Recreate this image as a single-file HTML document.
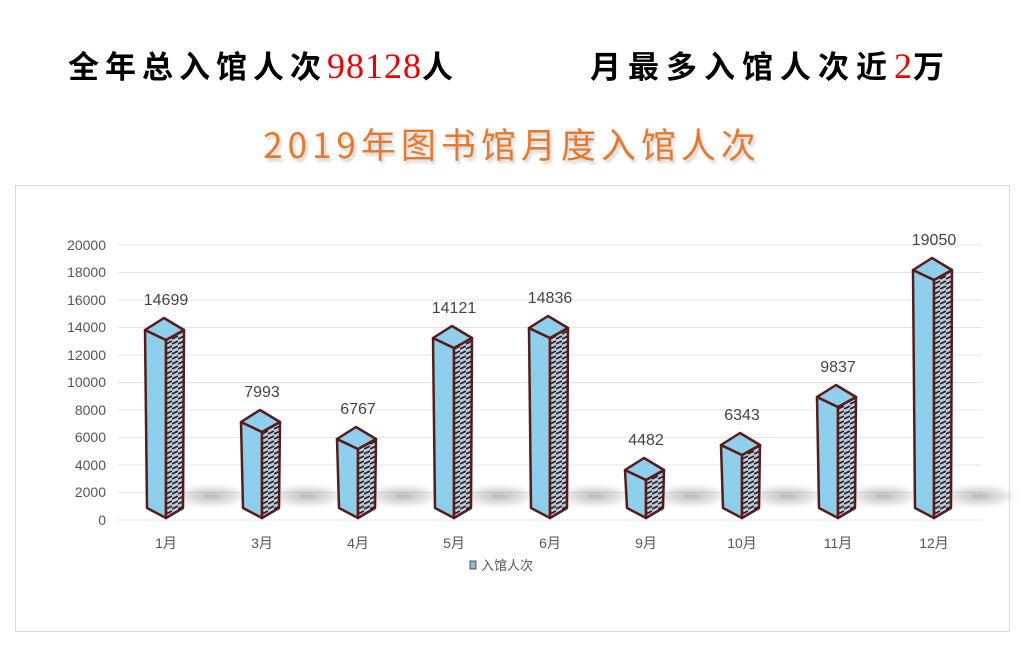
<!DOCTYPE html>
<html><head><meta charset="utf-8"><style>
body{margin:0;background:#fff;width:1024px;height:650px;overflow:hidden;font-family:"Liberation Sans","Noto Sans CJK SC",sans-serif}
.h{position:absolute;top:42px;font-size:31px;font-weight:bold;color:#000;font-family:"Noto Sans CJK SC",sans-serif;letter-spacing:6px;white-space:nowrap}
.r{color:#e00;font-family:"Liberation Serif","Noto Serif CJK SC",serif;font-weight:normal;font-size:36px;letter-spacing:1px}
.t{position:absolute;left:0;width:1024px;top:118px;text-align:center;font-size:35px;color:#e8782a;font-family:"Noto Sans CJK SC",sans-serif;letter-spacing:5px;text-shadow:2px 3px 3px #ccc}
.box{position:absolute;left:15px;top:185px;width:993px;height:445px;border:1px solid #d9d9d9}
</style></head><body>
<div class="h" style="left:68px">全年总入馆人次<span class="r">98128</span>人</div>
<div class="h" style="left:590px;letter-spacing:7px">月最多入馆人次近<span class="r">2</span>万</div>
<div class="t">2019年图书馆月度入馆人次</div>
<div class="box"></div>
<svg width="1024" height="650" style="position:absolute;left:0;top:0" font-family="Liberation Sans, Noto Sans CJK SC, sans-serif">
<defs><pattern id="hp" width="6" height="5" patternUnits="userSpaceOnUse"><rect width="6" height="5" fill="#a8d4ea"/><path d="M0 4 L6 1" stroke="#4a1515" stroke-width="1.8"/></pattern>
<radialGradient id="sh"><stop offset="0" stop-color="#888" stop-opacity=".6"/><stop offset="0.6" stop-color="#aaa" stop-opacity=".3"/><stop offset="1" stop-color="#ccc" stop-opacity="0"/></radialGradient></defs>
<g stroke="#e4e4e4" stroke-width="1">
<line x1="118" x2="982" y1="520" y2="520"/><line x1="118" x2="982" y1="492.5" y2="492.5"/><line x1="118" x2="982" y1="465" y2="465"/><line x1="118" x2="982" y1="437.5" y2="437.5"/><line x1="118" x2="982" y1="410" y2="410"/><line x1="118" x2="982" y1="382.5" y2="382.5"/><line x1="118" x2="982" y1="355" y2="355"/><line x1="118" x2="982" y1="327.5" y2="327.5"/><line x1="118" x2="982" y1="300" y2="300"/><line x1="118" x2="982" y1="272.5" y2="272.5"/><line x1="118" x2="982" y1="245" y2="245"/>
</g>
<g font-size="14" fill="#555" text-anchor="end">
<text x="106" y="525">0</text><text x="106" y="497">2000</text><text x="106" y="470">4000</text><text x="106" y="442">6000</text><text x="106" y="415">8000</text><text x="106" y="387">10000</text><text x="106" y="360">12000</text><text x="106" y="332">14000</text><text x="106" y="305">16000</text><text x="106" y="277">18000</text><text x="106" y="250">20000</text>
</g>
<g fill="url(#sh)">
<ellipse cx="211" cy="496" rx="42" ry="13"/><ellipse cx="307" cy="496" rx="42" ry="13"/><ellipse cx="403" cy="496" rx="42" ry="13"/><ellipse cx="499" cy="496" rx="42" ry="13"/><ellipse cx="595" cy="496" rx="42" ry="13"/><ellipse cx="691" cy="496" rx="42" ry="13"/><ellipse cx="787" cy="496" rx="42" ry="13"/><ellipse cx="883" cy="496" rx="42" ry="13"/><ellipse cx="979" cy="496" rx="42" ry="13"/>
</g>
<g stroke="#5a1a1a" stroke-width="2.5" stroke-linejoin="round">
<g transform="translate(166,0)"><path d="M-21 330 L0 340 L0 518 L-19 508Z" fill="#8ecfeb"/><path d="M0 340 L18 330 L17 508 L0 518Z" fill="url(#hp)"/><path d="M-21 330 L-2 318 L18 330 L0 340Z" fill="#8ecfeb"/></g>
<g transform="translate(262,0)"><path d="M-21 422 L0 432 L0 518 L-19 508Z" fill="#8ecfeb"/><path d="M0 432 L18 422 L17 508 L0 518Z" fill="url(#hp)"/><path d="M-21 422 L-2 410 L18 422 L0 432Z" fill="#8ecfeb"/></g>
<g transform="translate(358,0)"><path d="M-21 439 L0 449 L0 518 L-19 508Z" fill="#8ecfeb"/><path d="M0 449 L18 439 L17 508 L0 518Z" fill="url(#hp)"/><path d="M-21 439 L-2 427 L18 439 L0 449Z" fill="#8ecfeb"/></g>
<g transform="translate(454,0)"><path d="M-21 338 L0 348 L0 518 L-19 508Z" fill="#8ecfeb"/><path d="M0 348 L18 338 L17 508 L0 518Z" fill="url(#hp)"/><path d="M-21 338 L-2 326 L18 338 L0 348Z" fill="#8ecfeb"/></g>
<g transform="translate(550,0)"><path d="M-21 328 L0 338 L0 518 L-19 508Z" fill="#8ecfeb"/><path d="M0 338 L18 328 L17 508 L0 518Z" fill="url(#hp)"/><path d="M-21 328 L-2 316 L18 328 L0 338Z" fill="#8ecfeb"/></g>
<g transform="translate(646,0)"><path d="M-21 470 L0 480 L0 518 L-19 508Z" fill="#8ecfeb"/><path d="M0 480 L18 470 L17 508 L0 518Z" fill="url(#hp)"/><path d="M-21 470 L-2 458 L18 470 L0 480Z" fill="#8ecfeb"/></g>
<g transform="translate(742,0)"><path d="M-21 445 L0 455 L0 518 L-19 508Z" fill="#8ecfeb"/><path d="M0 455 L18 445 L17 508 L0 518Z" fill="url(#hp)"/><path d="M-21 445 L-2 433 L18 445 L0 455Z" fill="#8ecfeb"/></g>
<g transform="translate(838,0)"><path d="M-21 397 L0 407 L0 518 L-19 508Z" fill="#8ecfeb"/><path d="M0 407 L18 397 L17 508 L0 518Z" fill="url(#hp)"/><path d="M-21 397 L-2 385 L18 397 L0 407Z" fill="#8ecfeb"/></g>
<g transform="translate(934,0)"><path d="M-21 270 L0 280 L0 518 L-19 508Z" fill="#8ecfeb"/><path d="M0 280 L18 270 L17 508 L0 518Z" fill="url(#hp)"/><path d="M-21 270 L-2 258 L18 270 L0 280Z" fill="#8ecfeb"/></g>
</g>
<g font-size="16" fill="#444" text-anchor="middle">
<text x="166" y="305">14699</text><text x="262" y="397">7993</text><text x="358" y="414">6767</text><text x="454" y="313">14121</text><text x="550" y="303">14836</text><text x="646" y="445">4482</text><text x="742" y="420">6343</text><text x="838" y="372">9837</text><text x="934" y="245">19050</text>
</g>
<g font-size="14" fill="#555" text-anchor="middle">
<text x="166" y="548">1月</text><text x="262" y="548">3月</text><text x="358" y="548">4月</text><text x="454" y="548">5月</text><text x="550" y="548">6月</text><text x="646" y="548">9月</text><text x="742" y="548">10月</text><text x="838" y="548">11月</text><text x="934" y="548">12月</text>
</g>
<rect x="470" y="561" width="6" height="8" fill="#7fbfe0" stroke="#5a2020" stroke-width=".8"/>
<text x="481" y="570" font-size="13" fill="#555">入馆人次</text>
</svg>
</body></html>
